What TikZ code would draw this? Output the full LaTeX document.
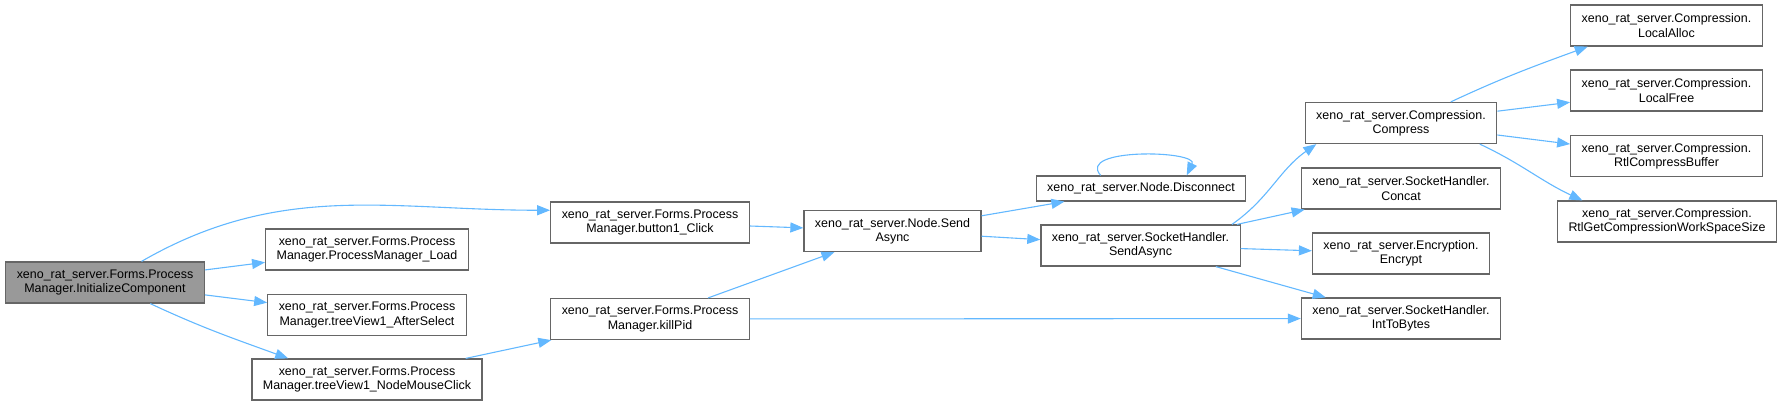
\documentclass[tikz,border=0pt]{standalone}
\usepackage{fontspec}
\setmainfont{Liberation Sans}
\usetikzlibrary{arrows.meta}
\definecolor{edgeblue}{HTML}{63B8FF}
\definecolor{boxline}{HTML}{666666}
\definecolor{boxfill}{HTML}{999999}
\begin{document}
\begin{tikzpicture}[>={Triangle[length=13bp,width=10bp]},x=1bp,y=1bp,
  fn/.style={draw=boxline,line width=1.2bp,fill=white,align=center,inner xsep=11bp,
    inner ysep=0pt,minimum height=41bp,font=\fontsize{12.5}{14.5}\selectfont},
  cur/.style={fn,fill=boxfill},
  call/.style={->,draw=edgeblue,line width=1.1bp}]
\useasboundingbox (0,0) rectangle (1787,-406);
\node[cur] (init) at (105,-282.5) {xeno\_rat\_server.Forms.Process\\Manager.InitializeComponent};
\node[fn] (load) at (367,-249.5) {xeno\_rat\_server.Forms.Process\\Manager.ProcessManager\_Load};
\node[fn] (after) at (367,-315) {xeno\_rat\_server.Forms.Process\\Manager.treeView1\_AfterSelect};
\node[fn] (nmc) at (367,-379.5) {xeno\_rat\_server.Forms.Process\\Manager.treeView1\_NodeMouseClick};
\node[fn] (click) at (650,-222.5) {xeno\_rat\_server.Forms.Process\\Manager.button1\_Click};
\node[fn] (kill) at (650,-319) {xeno\_rat\_server.Forms.Process\\Manager.killPid};
\node[fn] (nsend) at (892.5,-231) {xeno\_rat\_server.Node.Send\\Async};
\node[fn,minimum height=25bp] (disc) at (1141,-188.5) {xeno\_rat\_server.Node.Disconnect};
\node[fn] (ssend) at (1140.5,-245.5) {xeno\_rat\_server.SocketHandler.\\SendAsync};
\node[fn] (comp) at (1401,-123) {xeno\_rat\_server.Compression.\\Compress};
\node[fn] (concat) at (1401,-188.5) {xeno\_rat\_server.SocketHandler.\\Concat};
\node[fn] (enc) at (1401,-253.5) {xeno\_rat\_server.Encryption.\\Encrypt};
\node[fn] (itb) at (1401,-318.5) {xeno\_rat\_server.SocketHandler.\\IntToBytes};
\node[fn] (alloc) at (1666.5,-25.5) {xeno\_rat\_server.Compression.\\LocalAlloc};
\node[fn] (free) at (1666.5,-90.5) {xeno\_rat\_server.Compression.\\LocalFree};
\node[fn] (rcb) at (1666.5,-156) {xeno\_rat\_server.Compression.\\RtlCompressBuffer};
\node[fn] (wss) at (1667,-221.5) {xeno\_rat\_server.Compression.\\RtlGetCompressionWorkSpaceSize};
\draw[call] (init) to[out=30,in=180] (click.173);
\draw[call] (init)--(load);
\draw[call] (init)--(after);
\draw[call] (init.-25) to[out=-25,in=160] (nmc.165);
\draw[call] (nmc)--(kill);
\draw[call] (click)--(nsend);
\draw[call] (kill)--(nsend);
\draw[call] (kill)--(itb);
\draw[call] (nsend)--(disc);
\draw[call] (nsend)--(ssend);
\draw[call] (disc.162) .. controls +(-25,28) and +(12,25) .. (disc.16);
\draw[call] (ssend.13) to[out=35,in=-145] (comp.194);
\draw[call] (ssend)--(concat);
\draw[call] (ssend)--(enc);
\draw[call] (ssend)--(itb);
\draw[call] (comp.23.5) to[out=25,in=200] (alloc.195);
\draw[call] (comp)--(free);
\draw[call] (comp)--(rcb);
\draw[call] (comp.-15) to[out=-25,in=155] (wss.166);
\end{tikzpicture}
\end{document}
